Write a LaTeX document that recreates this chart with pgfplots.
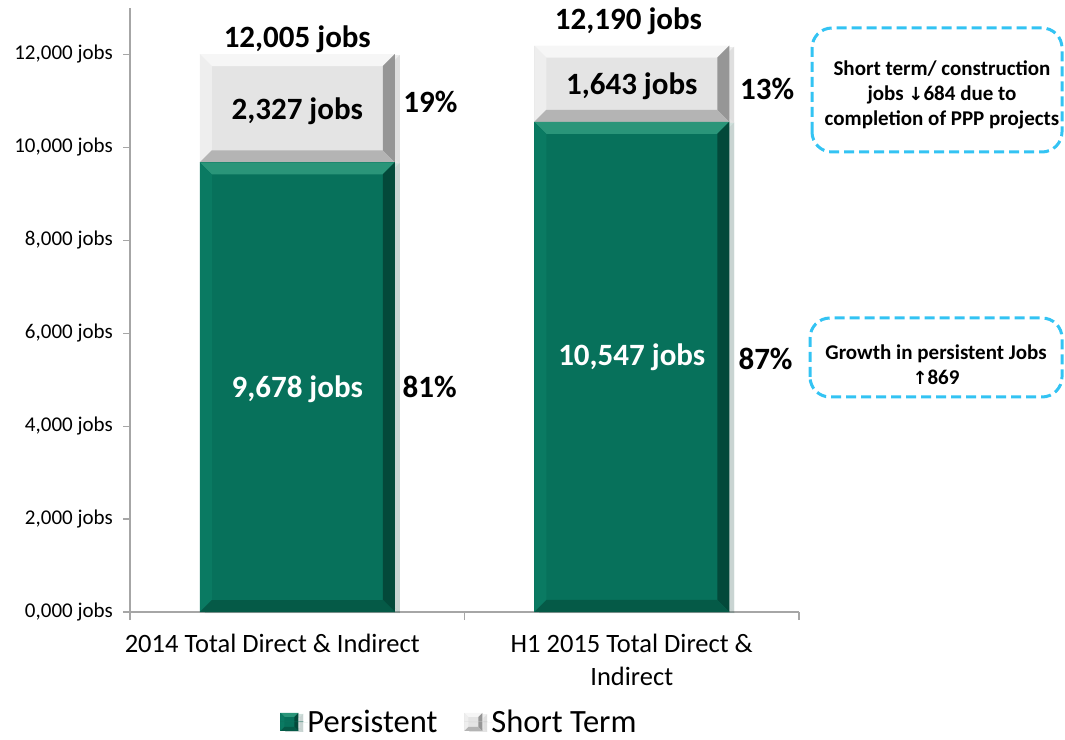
\documentclass[border=0pt]{standalone}
\usepackage{fontspec}
\setmainfont{Carlito}
\newfontfamily\arrowfont{DejaVu Sans}
\usepackage{pgfplots}
\pgfplotsset{compat=1.18}
\usetikzlibrary{shadows}
\definecolor{pgreen}{HTML}{07715B}
\definecolor{pgreentop}{HTML}{2A9579}
\definecolor{pgreenleft}{HTML}{0A7A62}
\definecolor{pgreenright}{HTML}{03493A}
\definecolor{pgreenbot}{HTML}{055A47}
\definecolor{sgray}{HTML}{E4E4E4}
\definecolor{sgraytop}{HTML}{F6F6F6}
\definecolor{sgrayleft}{HTML}{EEEEEE}
\definecolor{sgrayright}{HTML}{969696}
\definecolor{sgraybot}{HTML}{B4B4B4}
\definecolor{axgray}{HTML}{A6A6A6}
\definecolor{callout}{HTML}{33C3F3}
\newcommand\ticklabelfont{\fontsize{21}{25}\selectfont}
\newcommand\catfont{\fontsize{26.5}{33}\selectfont}
\newcommand\legendfont{\fontsize{32.5}{38}\selectfont}
\newcommand\barfont{\fontsize{31}{37}\selectfont\bfseries}
\newcommand\calloutfont{\fontsize{21}{25}\selectfont\bfseries}
\def\bw{12pt}
\def\PNW{\pgfpointanchor{path picture bounding box}{north west}}
\def\PNE{\pgfpointanchor{path picture bounding box}{north east}}
\def\PSW{\pgfpointanchor{path picture bounding box}{south west}}
\def\PSE{\pgfpointanchor{path picture bounding box}{south east}}
\def\PNWi{\pgfpointadd{\PNW}{\pgfpoint{\bw}{-\bw}}}
\def\PNEi{\pgfpointadd{\PNE}{\pgfpoint{-\bw}{-\bw}}}
\def\PSWi{\pgfpointadd{\PSW}{\pgfpoint{\bw}{\bw}}}
\def\PSEi{\pgfpointadd{\PSE}{\pgfpoint{-\bw}{\bw}}}
\newcommand\quadfill[5]{\pgfsetfillcolor{#1}\pgfpathmoveto{#2}\pgfpathlineto{#3}\pgfpathlineto{#4}\pgfpathlineto{#5}\pgfpathclose\pgfusepath{fill}}
\tikzset{
  bevel/.style n args={4}{path picture={
    \quadfill{#1}{\PNW}{\PNE}{\PNEi}{\PNWi}
    \quadfill{#2}{\PNW}{\PNWi}{\PSWi}{\PSW}
    \quadfill{#3}{\PNE}{\PNEi}{\PSEi}{\PSE}
    \quadfill{#4}{\PSW}{\PSWi}{\PSEi}{\PSE}
  }},
  greenbar/.style={fill=pgreen, draw=none, bevel={pgreentop}{pgreenleft}{pgreenright}{pgreenbot},
    drop shadow={shadow xshift=5pt, shadow yshift=-1pt, opacity=0.15}},
  graybar/.style={fill=sgray, draw=none, bevel={sgraytop}{sgrayleft}{sgrayright}{sgraybot},
    drop shadow={shadow xshift=5pt, shadow yshift=-1pt, opacity=0.15}},
}
\pgfplotsset{
  common/.style={
    at={(130pt,127pt)}, anchor=south west,
    scale only axis, width=669pt, height=604pt,
    ybar stacked, bar width=195pt,
    xmin=-0.5, xmax=1.5, ymin=0, ymax=13000,
    clip=false,
  }
}
\begin{document}
\begin{tikzpicture}[x=1pt,y=1pt]
\useasboundingbox (0,0) rectangle (1065,739);
\begin{axis}[
  common,
  axis x line=bottom, axis y line=left,
  axis line style={-, draw=axgray, line width=1.2pt},
  xtick={0,1},
  xticklabels={{2014 Total Direct \& Indirect\hspace*{50pt}},{H1 2015 Total Direct \&\\Indirect}},
  minor xtick={-0.5,0.5,1.5},
  major x tick style={draw=none},
  minor x tick style={draw=axgray, line width=1.2pt},
  ytick={0,2000,4000,6000,8000,10000,12000},
  yticklabels={{0,000 jobs},{2,000 jobs},{4,000 jobs},{6,000 jobs},{8,000 jobs},{10,000 jobs},{12,000 jobs}},
  scaled y ticks=false,
  major y tick style={draw=axgray, line width=1.2pt},
  tick align=outside, major tick length=7pt, minor tick length=8pt,
  yticklabel style={font=\ticklabelfont, inner sep=0pt, xshift=-10pt},
  xticklabel style={font=\catfont, align=center, inner sep=0pt, yshift=-15pt},
  legend style={at={(0.494,-0.182)}, anchor=center, draw=none, fill=none, legend columns=2, font=\legendfont,
    /tikz/every even column/.append style={column sep=23pt}, nodes={inner sep=4pt}},
  legend image code/.code={\def\bw{4pt}\fill[#1] (0pt,-9pt) rectangle (18pt,9pt);\path (0pt,0pt) -- (23pt,0pt);},
]
% 2014 Total Direct & Indirect: persistent, short term
\addplot[greenbar] coordinates {(0,9678)};
\addlegendentry{Persistent}
\addplot[graybar] coordinates {(0,2327)};
\addlegendentry{Short Term}
\coordinate (t1) at (axis cs:0,12140);
\coordinate (t2) at (axis cs:0.99,12527);
\coordinate (s1) at (axis cs:0,10590);
\coordinate (s2) at (axis cs:1,11128);
\coordinate (p1) at (axis cs:0,4606);
\coordinate (p2) at (axis cs:1,5316);
\coordinate (sp1) at (axis cs:0.398,10740);
\coordinate (sp2) at (axis cs:1.405,11020);
\coordinate (pp1) at (axis cs:0.396,4606);
\coordinate (pp2) at (axis cs:1.40,5230);
\end{axis}
\begin{axis}[common, hide axis]
% H1 2015 Total Direct & Indirect: persistent, short term
\addplot[greenbar] coordinates {(1,10547)};
\addplot[graybar] coordinates {(1,1643)};
\end{axis}
\node[anchor=base, font=\barfont] at (t1) {12,005 jobs};
\node[anchor=base, font=\barfont] at (t2) {12,190 jobs};
\node[anchor=base, font=\barfont] at (s1) {2,327 jobs};
\node[anchor=base, font=\barfont] at (s2) {1,643 jobs};
\node[anchor=base, font=\barfont, text=white] at (p1) {9,678 jobs};
\node[anchor=base, font=\barfont, text=white] at (p2) {10,547 jobs};
\node[anchor=base, font=\barfont] at (sp1) {19\%};
\node[anchor=base, font=\barfont] at (sp2) {13\%};
\node[anchor=base, font=\barfont] at (pp1) {81\%};
\node[anchor=base, font=\barfont] at (pp2) {87\%};
\draw[callout, line width=3pt, dash pattern=on 10pt off 5pt, rounded corners=20pt] (812,587) rectangle (1062,711);
\node[align=center, font=\calloutfont] at (942,644) {Short term/ construction\\jobs {\arrowfont\bfseries\fontsize{18}{25}\selectfont ↓}684 due to\\completion of PPP projects};
\draw[callout, line width=3pt, dash pattern=on 10pt off 5pt, rounded corners=20pt] (810,342) rectangle (1062,421);
\node[align=center, font=\calloutfont] at (936,374) {Growth in persistent Jobs\\{\arrowfont\bfseries\fontsize{18}{25}\selectfont ↑}869};
\end{tikzpicture}
\end{document}
